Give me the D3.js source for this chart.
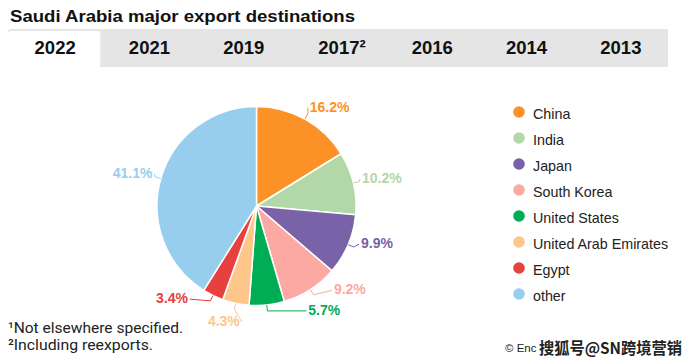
<!DOCTYPE html>
<html>
<head>
<meta charset="utf-8">
<script src="https://cdn.jsdelivr.net/npm/d3@7"></script>
<style>
  html, body { margin: 0; padding: 0; background: #fff; }
  svg { display: block; }
</style>
</head>
<body>
<svg id="chart" width="698" height="364"></svg>
<script>
// ---- data ----
const title = "Saudi Arabia major export destinations";
const years = ["2022", "2021", "2019", "2017²", "2016", "2014", "2013"];
const selectedYear = "2022";
const countries = ["China", "India", "Japan", "South Korea", "United States", "United Arab Emirates", "Egypt", "other"];
const shares = [16.2, 10.2, 9.9, 9.2, 5.7, 4.3, 3.4, 41.1];
const colors = ["#fc9128", "#b2d8a7", "#7962a7", "#fca9a4", "#00ad55", "#fec68a", "#e6403f", "#98ceed"];
const footnotes = ["¹Not elsewhere specified.", "²Including reexports."];
const credit = "© Enc";
const watermark = "搜狐号@SN跨境营销";

// ---- layout ----
const W = 698, H = 364;
const cx = 256.5, cy = 206, R = 99.5;
// label nudges (layout only) relative to a polar point at R+14 on the slice mid-angle
const labelNudge = [[-2, 0], [-5, -2], [0, -7], [16, -12], [40, -9], [7, 4], [-19, -10], [5, -2]];

const svg = d3.select("#chart");

// title
svg.append("text")
  .attr("x", 10).attr("y", 22)
  .attr("font-family", "Liberation Sans, Arial, sans-serif")
  .attr("font-weight", "bold").attr("font-size", 17)
  .attr("fill", "#111")
  .attr("textLength", 345).attr("lengthAdjust", "spacingAndGlyphs")
  .text(title);

// tabs
const tabX = d3.scaleBand().domain(years).range([8, 668]);
svg.append("rect").attr("x", 8).attr("y", 29).attr("width", 660).attr("height", 38)
  .attr("rx", 2).attr("fill", "#e5e5e5");
svg.append("path")
  .attr("d", () => {
    const x0 = tabX(selectedYear), x1 = x0 + tabX.bandwidth() - 2, y0 = 31, y1 = 67, r = 3;
    return `M${x0},${y1}V${y0 + r}Q${x0},${y0} ${x0 + r},${y0}H${x1 - r}Q${x1},${y0} ${x1},${y0 + r}V${y1}Z`;
  })
  .attr("fill", "#fff");
svg.selectAll("text.tab").data(years).join("text")
  .attr("class", "tab")
  .attr("x", d => tabX(d) + tabX.bandwidth() / 2 + (d.includes("²") ? 4 : 0))
  .attr("y", 54)
  .attr("text-anchor", "middle")
  .attr("font-family", "Liberation Sans, Arial, sans-serif")
  .attr("font-weight", "bold").attr("font-size", 18.5)
  .attr("fill", "#111")
  .text(d => d);

// pie
const pie = d3.pie().sort(null).value(d => d.v);
const data = countries.map((c, i) => ({ c, v: shares[i], col: colors[i], i }));
const arcs = pie(data);
const arcGen = d3.arc().innerRadius(0).outerRadius(R);
const g = svg.append("g").attr("transform", `translate(${cx},${cy})`);
g.selectAll("path.slice").data(arcs).join("path")
  .attr("class", "slice")
  .attr("d", arcGen)
  .attr("fill", d => d.data.col)
  .attr("stroke", "#fff").attr("stroke-width", 1.5).attr("stroke-linejoin", "round");

const polar = (a, r) => [r * Math.sin(a), -r * Math.cos(a)];
arcs.forEach((d, i) => {
  const a = (d.startAngle + d.endAngle) / 2;
  const p0 = polar(a, R);
  const p1 = polar(a, R + 6);
  const base = polar(a, R + 14);
  const lx = base[0] + labelNudge[i][0], ly = base[1] + labelNudge[i][1];
  const right = Math.sin(a) > 0.05 || i === 4;
  const anchor = right ? "start" : "end";
  const gap = right ? -2 : 2;
  g.append("path")
    .attr("d", d3.line()([p0, p1, [lx + gap, ly + 1]]))
    .attr("fill", "none").attr("stroke", d.data.col).attr("stroke-width", 1);
  g.append("text")
    .attr("x", lx).attr("y", ly + 5)
    .attr("text-anchor", anchor)
    .attr("font-family", "Liberation Sans, Arial, sans-serif")
    .attr("font-weight", "bold").attr("font-size", 14)
    .attr("fill", d.data.col)
    .text(d3.format(".1f")(d.data.v) + "%");
});

// legend
const ly = d3.scalePoint().domain(countries).range([112, 294]);
const leg = svg.append("g");
leg.selectAll("circle").data(data).join("circle")
  .attr("cx", 519).attr("cy", d => ly(d.c)).attr("r", 5.8).attr("fill", d => d.col);
leg.selectAll("text").data(data).join("text")
  .attr("x", 533).attr("y", d => ly(d.c) + 7)
  .attr("font-family", "Liberation Sans, Arial, sans-serif")
  .attr("font-size", 14.3).attr("fill", "#222")
  .text(d => d.c);

// footnotes
svg.selectAll("text.fn").data(footnotes).join("text")
  .attr("class", "fn")
  .attr("x", 8).attr("y", (d, i) => 333 + i * 17)
  .attr("font-family", "Roboto, sans-serif")
  .attr("font-size", 15).attr("fill", "#222")
  .attr("textLength", (d, i) => i === 0 ? 175 : 145).attr("lengthAdjust", "spacingAndGlyphs")
  .text(d => d);

// credit + watermark
svg.append("text").attr("x", 505).attr("y", 352)
  .attr("font-family", "Liberation Sans, Arial, sans-serif")
  .attr("font-size", 11.5).attr("fill", "#222").text(credit);
svg.append("text").attr("x", 539).attr("y", 354)
  .attr("font-family", "Noto Sans CJK SC, sans-serif")
  .attr("font-size", 16).attr("font-weight", "bold").attr("fill", "#222")
  .attr("stroke", "#fff").attr("stroke-width", 2.5).attr("paint-order", "stroke")
  .attr("textLength", 143).attr("lengthAdjust", "spacingAndGlyphs")
  .text(watermark);
</script>
</body>
</html>
